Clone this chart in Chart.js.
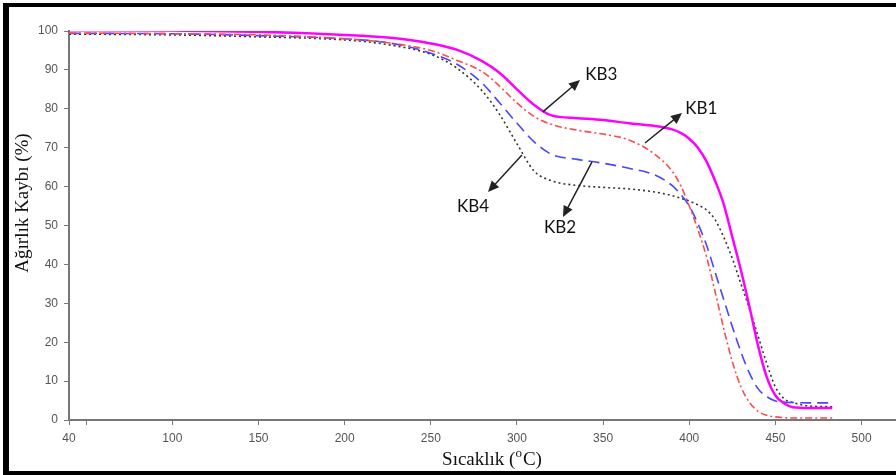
<!DOCTYPE html>
<html>
<head>
<meta charset="utf-8">
<script src="https://cdn.jsdelivr.net/npm/chart.js@4.4.0/dist/chart.umd.min.js"></script>
<style>
  html, body { margin: 0; padding: 0; background: #fff; }
  #wrap { position: relative; width: 896px; height: 475px; }
  #frame {
    position: absolute; left: 3px; top: 3px; right: 0; bottom: 0; box-sizing: border-box;
    border-top: 4px solid #000; border-left: 6px solid #000; border-bottom: 4px solid #000;
    pointer-events: none;
  }
</style>
</head>
<body>
<div id="wrap">
  <canvas id="tgaChart" width="896" height="475"></canvas>
  <div id="frame"></div>
</div>
<script>
// temperature (°C) at which each series was read
const temps = [40, 100, 150, 200, 225, 250, 265, 280, 290, 300, 310, 320, 335, 350, 365, 380, 390, 395, 400, 405, 410, 415, 420, 425, 430, 435, 440, 445, 450, 455, 460, 470, 483];
// weight (%)
const kb3 = [100.2, 100.1, 99.8, 99, 98.3, 96.8, 95.2, 92.2, 89.2, 85, 81, 78.3, 77.6, 77.1, 76.3, 75.6, 74.7, 73.8, 72.3, 70, 66.5, 61.5, 55.5, 47, 38.5, 29, 19, 11, 6.3, 4.3, 3.3, 3.1, 3.1];
const kb1 = [99.5, 99.3, 99, 98, 97, 95, 92.5, 89.5, 85.8, 81.5, 78, 76, 74.5, 73.5, 72, 68.3, 64, 60.3, 55, 49, 42, 33, 23.5, 15, 8.5, 4.5, 2.2, 1.2, 0.8, 0.6, 0.5, 0.5, 0.5];
const kb2 = [99.4, 99.3, 98.8, 98, 97, 94.3, 91.5, 86.5, 81.5, 76.3, 71.5, 68.3, 67, 66, 64.7, 63, 60.3, 58, 55, 50.5, 45, 38, 31, 24, 17.5, 12, 8, 6, 4.9, 4.6, 4.5, 4.4, 4.4];
const kb4 = [99.2, 99, 98.5, 97.7, 96.5, 94, 90.5, 84.5, 78.5, 71, 64, 61.5, 60.3, 59.8, 59.4, 58.6, 57.7, 57, 56.3, 55.3, 54, 51.5, 47, 41.5, 35, 28.5, 21.5, 14.5, 8.5, 5.5, 4.5, 3.6, 3.4];

const xTickValues = [40, 50, 100, 150, 200, 250, 300, 350, 400, 450, 500];
const xTickLabels = ['40', '', '100', '150', '200', '250', '300', '350', '400', '450', '500'];
const yTickValues = [0, 10, 20, 30, 40, 50, 60, 70, 80, 90, 100];

// callout arrows: [label, from (T, W), arrow tip (T, W), label centre (T, W)]
const callouts = [
  ['KB3', [315, 79.2], [336.6, 87.4], [349, 88.7]],
  ['KB1', [374.3, 71.2], [395.8, 78.9], [407, 80.2]],
  ['KB4', [302.9, 68.1], [283.2, 58.6], [274.5, 54.8]],
  ['KB2', [343.5, 66.3], [326.7, 52.2], [325, 49.4]],
];

const toPoints = (ys) => temps.map((t, i) => ({ x: t, y: ys[i] }));

const series = (label, ys, color, width, dash) => ({
  label,
  data: toPoints(ys),
  showLine: true,
  borderColor: color,
  backgroundColor: color,
  borderWidth: width,
  borderDash: dash,
  pointRadius: 0,
  cubicInterpolationMode: 'monotone',
  fill: false,
});

const overlay = {
  id: 'overlay',
  afterDatasetsDraw(chart) {
    const { ctx, scales: { x, y } } = chart;
    ctx.save();
    // callouts
    callouts.forEach(([label, from, tip, at]) => {
      const x1 = x.getPixelForValue(from[0]), y1 = y.getPixelForValue(from[1]);
      const x2 = x.getPixelForValue(tip[0]), y2 = y.getPixelForValue(tip[1]);
      const ang = Math.atan2(y2 - y1, x2 - x1);
      const head = 11, half = 5;
      ctx.strokeStyle = '#222';
      ctx.fillStyle = '#222';
      ctx.lineWidth = 1.5;
      ctx.setLineDash([]);
      ctx.beginPath();
      ctx.moveTo(x1, y1);
      ctx.lineTo(x2 - Math.cos(ang) * head * 0.8, y2 - Math.sin(ang) * head * 0.8);
      ctx.stroke();
      ctx.beginPath();
      ctx.moveTo(x2, y2);
      ctx.lineTo(x2 - Math.cos(ang) * head + Math.sin(ang) * half, y2 - Math.sin(ang) * head - Math.cos(ang) * half);
      ctx.lineTo(x2 - Math.cos(ang) * head - Math.sin(ang) * half, y2 - Math.sin(ang) * head + Math.cos(ang) * half);
      ctx.closePath();
      ctx.fill();
      ctx.font = '17px Lato';
      ctx.fillStyle = '#111';
      ctx.textAlign = 'center';
      ctx.textBaseline = 'middle';
      ctx.fillText(label, x.getPixelForValue(at[0]), y.getPixelForValue(at[1]));
    });

    // axis titles
    ctx.fillStyle = '#111';
    ctx.font = '19px "Liberation Serif"';
    ctx.textAlign = 'center';
    ctx.textBaseline = 'middle';
    ctx.save();
    ctx.translate(23, 203);
    ctx.rotate(-Math.PI / 2);
    ctx.fillText('Ağırlık Kaybı (%)', 0, 0);
    ctx.restore();

    const main = 'Sıcaklık (', tail = 'C)';
    ctx.textAlign = 'left';
    ctx.textBaseline = 'alphabetic';
    ctx.font = '19px "Liberation Serif"';
    const w1 = ctx.measureText(main).width, w3 = ctx.measureText(tail).width;
    ctx.font = '13px "Liberation Serif"';
    const w2 = ctx.measureText('o').width + 1;
    let px = 492 - (w1 + w2 + w3) / 2;
    ctx.font = '19px "Liberation Serif"';
    ctx.fillText(main, px, 465);
    ctx.font = '13px "Liberation Serif"';
    ctx.fillText('o', px + w1, 457);
    ctx.font = '19px "Liberation Serif"';
    ctx.fillText(tail, px + w1 + w2, 465);
    ctx.restore();
  },
};

new Chart(document.getElementById('tgaChart'), {
  type: 'scatter',
  data: {
    datasets: [
      series('KB3', kb3, '#ff00ff', 2.5, []),
      series('KB1', kb1, '#ff4a4a', 1.6, [7, 3, 2, 3]),
      series('KB2', kb2, '#4646ff', 1.6, [11, 6]),
      series('KB4', kb4, '#333333', 1.6, [2, 3]),
    ],
  },
  options: {
    responsive: false,
    animation: false,
    layout: { padding: { top: 31, right: 0, left: 0, bottom: 0 } },
    plugins: { legend: { display: false }, tooltip: { enabled: false } },
    scales: {
      x: {
        type: 'linear',
        min: 40,
        max: 520,
        afterFit: (s) => { s.height = 55; },
        afterBuildTicks: (s) => { s.ticks = xTickValues.map((v) => ({ value: v })); },
        grid: { drawOnChartArea: false, color: '#777', tickLength: 5 },
        border: { color: '#777', width: 2 },
        ticks: {
          autoSkip: false,
          maxRotation: 0,
          padding: 6,
          color: '#555',
          font: { family: '"Liberation Sans"', size: 12 },
          callback: (v) => xTickLabels[xTickValues.indexOf(v)],
        },
      },
      y: {
        min: 0,
        max: 100,
        afterFit: (s) => { s.width = 69; },
        afterBuildTicks: (s) => { s.ticks = yTickValues.map((v) => ({ value: v })); },
        grid: { drawOnChartArea: false, color: '#777', tickLength: 5 },
        border: { color: '#777', width: 2 },
        ticks: {
          padding: 6,
          color: '#555',
          font: { family: '"Liberation Sans"', size: 12 },
        },
      },
    },
  },
  plugins: [overlay],
});
</script>
</body>
</html>
